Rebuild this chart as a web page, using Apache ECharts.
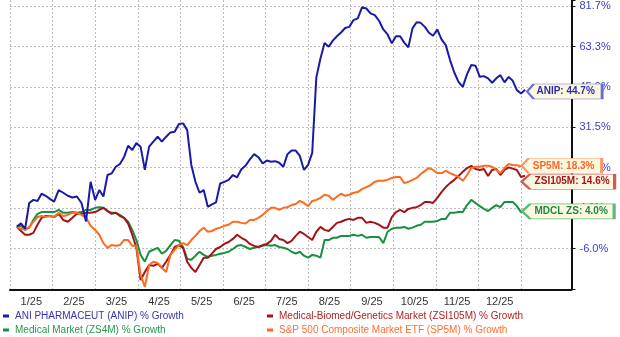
<!DOCTYPE html>
<html><head><meta charset="utf-8">
<script src="https://cdn.jsdelivr.net/npm/echarts@6/dist/echarts.min.js"></script>
<style>html,body{margin:0;padding:0;background:#fff}#c{width:620px;height:337px}</style>
</head><body><div id="c"></div>
<script>
// ---------- data ----------
const monthLabels = ['1/25','2/25','3/25','4/25','5/25','6/25','7/25','8/25','9/25','10/25','11/25','12/25'];
const yTickLabels = ['-6.0%','4.9%','17.1%','31.5%','45.9%','63.3%','81.7%'];
// sample dates: every 3 calendar days from 2025-01-06
const sampleStart = [2025, 0, 6];
const sampleStepDays = 3;

const anip = [
 -0.2,0.7,-0.8,6.4,7.3,7.0,9.1,8.5,7.6,6.8,
 10.2,9.4,8.5,8.0,8.3,6.4,1.2,12.7,7.3,10.2,
 8.3,14.8,15.3,17.4,18.3,20.5,24.3,22.9,25.2,24.0,
 16.4,24.0,25.7,27.4,25.7,27.4,28.9,29.1,31.9,32.1,
 29.7,18.0,12.7,9.4,10.2,5.3,6.0,6.6,12.2,12.7,
 13.3,14.8,14.1,16.6,17.8,19.8,21.5,20.5,18.5,19.4,
 19.0,19.2,18.7,17.4,21.5,22.7,22.7,20.9,16.4,18.0,
 21.9,49.7,57.6,64.3,62.7,65.4,67.4,69.1,71.2,71.7,
 74.9,75.7,81.1,80.5,78.1,77.3,74.6,70.5,68.2,64.2,
 67.4,67.4,64.5,62.4,71.0,73.9,73.6,71.7,69.0,67.6,
 70.5,66.0,63.4,56.9,51.7,47.9,45.9,51.0,54.8,54.5,
 49.9,50.2,49.3,47.5,49.3,50.6,47.7,49.9,48.3,44.6,
 43.3,44.7];
const zsi105m = [
 -0.2,-1.4,-2.4,-2.4,-1.9,0.3,2.2,2.7,2.7,2.4,
 3.3,1.6,1.1,2.2,3.3,3.3,3.6,3.6,3.8,4.4,
 5.0,4.1,3.3,3.6,2.7,2.2,0.6,-2.4,-5.8,-13.7,
 -11.8,-10.1,-10.3,-9.8,-10.8,-9.3,-7.6,-5.6,-5.1,-5.8,
 -9.3,-10.8,-11.8,-10.1,-8.3,-8.3,-7.3,-6.1,-5.6,-4.8,
 -4.3,-3.5,-2.4,-3.2,-3.8,-4.8,-5.3,-5.6,-5.1,-4.8,
 -4.0,-2.4,-3.5,-3.8,-4.6,-4.0,-2.7,-1.6,-2.2,-3.0,
 -3.8,-1.6,-0.3,-1.1,-1.4,-0.3,0.8,1.1,1.6,1.9,
 1.6,2.2,2.2,0.8,1.1,0.8,0.3,-0.5,-0.5,2.4,
 3.8,4.4,3.8,4.7,5.0,5.2,5.8,6.7,6.7,6.4,
 7.9,9.6,11.1,12.3,13.3,14.5,15.8,17.0,17.7,16.7,
 16.4,16.7,14.5,16.4,16.7,14.8,16.4,17.2,16.8,16.4,
 14.2,14.6];
const zs4m = [
 -0.2,0.0,-1.1,-0.5,1.6,3.3,3.8,3.8,3.8,3.8,
 4.4,3.6,3.6,3.8,3.6,3.8,4.4,4.4,5.0,5.2,
 5.0,4.1,3.6,3.6,3.0,2.2,1.1,-1.1,-3.8,-7.6,
 -9.3,-6.8,-6.3,-5.8,-7.3,-6.6,-5.1,-3.8,-4.0,-5.6,
 -8.6,-8.8,-7.8,-6.8,-7.6,-8.1,-7.8,-7.6,-7.3,-7.1,
 -6.8,-6.1,-5.3,-5.1,-5.6,-6.1,-5.8,-5.6,-5.3,-5.1,
 -5.3,-5.1,-5.6,-5.8,-6.1,-6.8,-7.3,-6.8,-7.8,-8.3,
 -7.6,-7.8,-8.3,-3.8,-3.8,-3.2,-3.2,-2.7,-2.7,-2.7,
 -2.4,-2.7,-2.4,-3.2,-3.0,-3.0,-3.0,-4.6,-1.6,-0.8,
 -0.5,-0.5,-0.3,-0.8,-0.5,0.0,0.3,1.1,1.1,1.1,
 1.3,1.9,1.9,3.6,3.6,3.8,3.8,5.8,7.3,6.4,
 5.5,4.7,4.1,5.0,5.8,5.2,6.7,6.7,6.7,5.5,
 3.8,4.0];
const sp5m = [
 -0.2,-0.8,-1.1,-0.3,1.1,2.4,2.7,2.4,2.7,2.4,
 3.6,2.7,3.0,3.6,3.6,3.0,2.2,0.0,-1.1,-2.4,
 -4.6,-5.8,-5.1,-5.3,-5.1,-3.8,-3.8,-5.3,-5.3,-12.5,
 -15.3,-10.1,-9.3,-9.6,-10.8,-11.8,-7.6,-6.3,-5.1,-4.6,
 -5.1,-3.8,-2.7,-1.4,-0.5,-1.6,-1.4,-0.8,-0.5,0.0,
 0.3,1.1,1.1,0.8,0.6,1.6,1.6,2.2,3.0,4.1,
 5.0,5.0,4.4,5.0,5.2,5.8,6.1,7.0,6.4,5.5,
 7.0,7.3,7.9,8.8,8.5,7.3,8.2,9.1,8.5,8.8,
 9.4,9.6,10.5,11.1,11.7,12.7,13.0,13.0,13.3,13.9,
 14.2,14.2,12.3,12.7,13.3,13.9,15.1,16.1,17.0,16.4,
 15.4,15.4,16.1,15.4,14.8,14.2,13.0,14.8,17.0,17.4,
 17.4,17.7,17.7,17.4,16.4,15.4,17.0,18.3,18.0,17.9,
 17.6,18.3];

const names = {
  anip: 'ANI PHARMACEUT (ANIP) % Growth',
  zsi: 'Medical-Biomed/Genetics Market (ZSI105M) % Growth',
  zs4m: 'Medical Market (ZS4M) % Growth',
  sp5m: 'S&P 500 Composite Market ETF (SP5M) % Growth'
};
const tagNames = { anip: 'ANIP', zsi: 'ZSI105M', zs4m: 'MDCL ZS', sp5m: 'SP5M' };

// ---------- layout / style ----------
const FONT = '"Liberation Sans", Arial, Helvetica, sans-serif';
const GRID_LEFT = 10, GRID_TOP = 0, GRID_H = 289;
const W0 = 511, W1 = 561.5;
const STEP_PX = 40.42;
const xMax1 = 12 * W1 / W0;
const nSteps = yTickLabels.length - 1;
const gLo = parseFloat(yTickLabels[0]), gHi = parseFloat(yTickLabels[nSteps]);
const L0 = Math.log(1 + gLo / 100), L1 = Math.log(1 + gHi / 100);
const toStep = g => (Math.log(1 + g / 100) - L0) / (L1 - L0) * nSteps;
const yMin = -1, yMax = -1 + GRID_H / STEP_PX;

const dates = anip.map((_, i) => new Date(Date.UTC(sampleStart[0], sampleStart[1], sampleStart[2] + sampleStepDays * i)));
const monthPos = d => (d.getUTCFullYear() - 2025) * 12 + d.getUTCMonth() +
  (d.getUTCDate() - 1) / new Date(Date.UTC(d.getUTCFullYear(), d.getUTCMonth() + 1, 0)).getUTCDate();

const defs = [
  { key: 'zs4m', vals: zs4m, color: '#17913f', text: '#1d8a44', border: '#5fb97a', w: 92, dx: -3, dy: 0, tx: 3 },
  { key: 'zsi', vals: zsi105m, color: '#a3141a', text: '#a3181c', border: '#cf5a5a', w: 93, dx: -3.5, dy: 6, tx: 4 },
  { key: 'sp5m', vals: sp5m, color: '#ff6a1f', text: '#ff6424', border: '#ff9866', w: 80, dx: -3.5, dy: 1.8, tx: 2 },
  { key: 'anip', vals: anip, color: '#1a1aa8', text: '#2e2ea6', border: '#6a6ad2', w: 75, dx: 2, dy: 1.6, tx: 1 }
];
const legendText = { anip: '#3434b4', zsi: '#b02424', zs4m: '#26984d', sp5m: '#ff6f30' };

const series = defs.map(d => {
  const data = d.vals.map((v, i) => [monthPos(dates[i]), toStep(v)]);
  const last = data[data.length - 1];
  return {
    name: names[d.key], type: 'line', xAxisIndex: 1, yAxisIndex: 1,
    data, showSymbol: false, symbol: 'none', clip: false,
    lineStyle: { color: d.color, width: 2 }, itemStyle: { color: d.color },
    animation: false,
    markPoint: {
      silent: true, animation: false,
      symbol: 'path://M0,7.5L7,0L80,0L80,15L7,15Z',
      symbolSize: [d.w, 15], symbolKeepAspect: false,
      symbolOffset: [d.w / 2 + d.dx, d.dy],
      itemStyle: { color: '#fcf8e0', borderColor: d.border, borderWidth: 1.3 },
      label: {
        show: true, position: 'inside', offset: [d.tx, 0],
        formatter: tagNames[d.key] + ': ' + d.vals[d.vals.length - 1].toFixed(1) + '%',
        color: d.text, fontSize: 10, fontWeight: 'bold', fontFamily: FONT
      },
      data: [{ coord: last }]
    }
  };
});

const gridLine = { show: true, lineStyle: { color: '#bdbdbd', type: [2, 2], width: 1 } };

const mkLegend = (k, left, top) => ({
  left, top, orient: 'horizontal', itemWidth: 6, itemHeight: 3, icon: 'rect',
  selectedMode: false, padding: 0, itemGap: 0,
  textStyle: { fontSize: 10, fontFamily: FONT, color: legendText[k], padding: [0, 0, 0, 1] },
  data: [names[k]]
});

const option = {
  backgroundColor: '#fff',
  animation: false,
  grid: [
    { left: GRID_LEFT, top: GRID_TOP, width: W0, height: GRID_H },
    { left: GRID_LEFT, top: GRID_TOP, width: W1, height: GRID_H }
  ],
  xAxis: [
    { type: 'value', gridIndex: 0, min: 0, max: 12, interval: 1, offset: 2,
      axisLine: { show: false }, axisTick: { show: false }, splitLine: gridLine,
      axisLabel: { show: true, color: '#333', fontSize: 11, fontFamily: FONT, margin: 5,
        padding: [0, 0, 0, W0 / 12],
        formatter: v => (v >= 0 && v < 12) ? monthLabels[v] : '' } },
    { type: 'value', gridIndex: 1, min: 0, max: xMax1, offset: 1,
      axisLine: { show: true, onZero: false, lineStyle: { color: '#111', width: 2 } },
      axisTick: { show: false }, axisLabel: { show: false }, splitLine: { show: false } }
  ],
  yAxis: [
    { type: 'value', gridIndex: 0, min: yMin, max: yMax, show: false, splitLine: { show: false } },
    { type: 'value', gridIndex: 1, position: 'right', min: yMin, max: yMax,
      axisLine: { show: true, onZero: false, lineStyle: { color: '#111', width: 2 } },
      axisTick: { show: true, inside: false, length: 4, lineStyle: { color: '#111', width: 1 } },
      splitLine: Object.assign({ showMinLine: false, showMaxLine: false }, gridLine),
      axisLabel: { color: '#3c3cc8', fontSize: 11, fontFamily: FONT, margin: 8,
        formatter: v => (Number.isInteger(v) && v >= 0 && v <= nSteps) ? yTickLabels[v] : '' } }
  ],
  legend: [
    mkLegend('anip', 3, 311),
    mkLegend('zs4m', 3, 325),
    mkLegend('zsi', 267, 311),
    mkLegend('sp5m', 267, 325)
  ],
  series
};
const chart = echarts.init(document.getElementById('c'));
chart.setOption(option);
</script>
</body></html>
